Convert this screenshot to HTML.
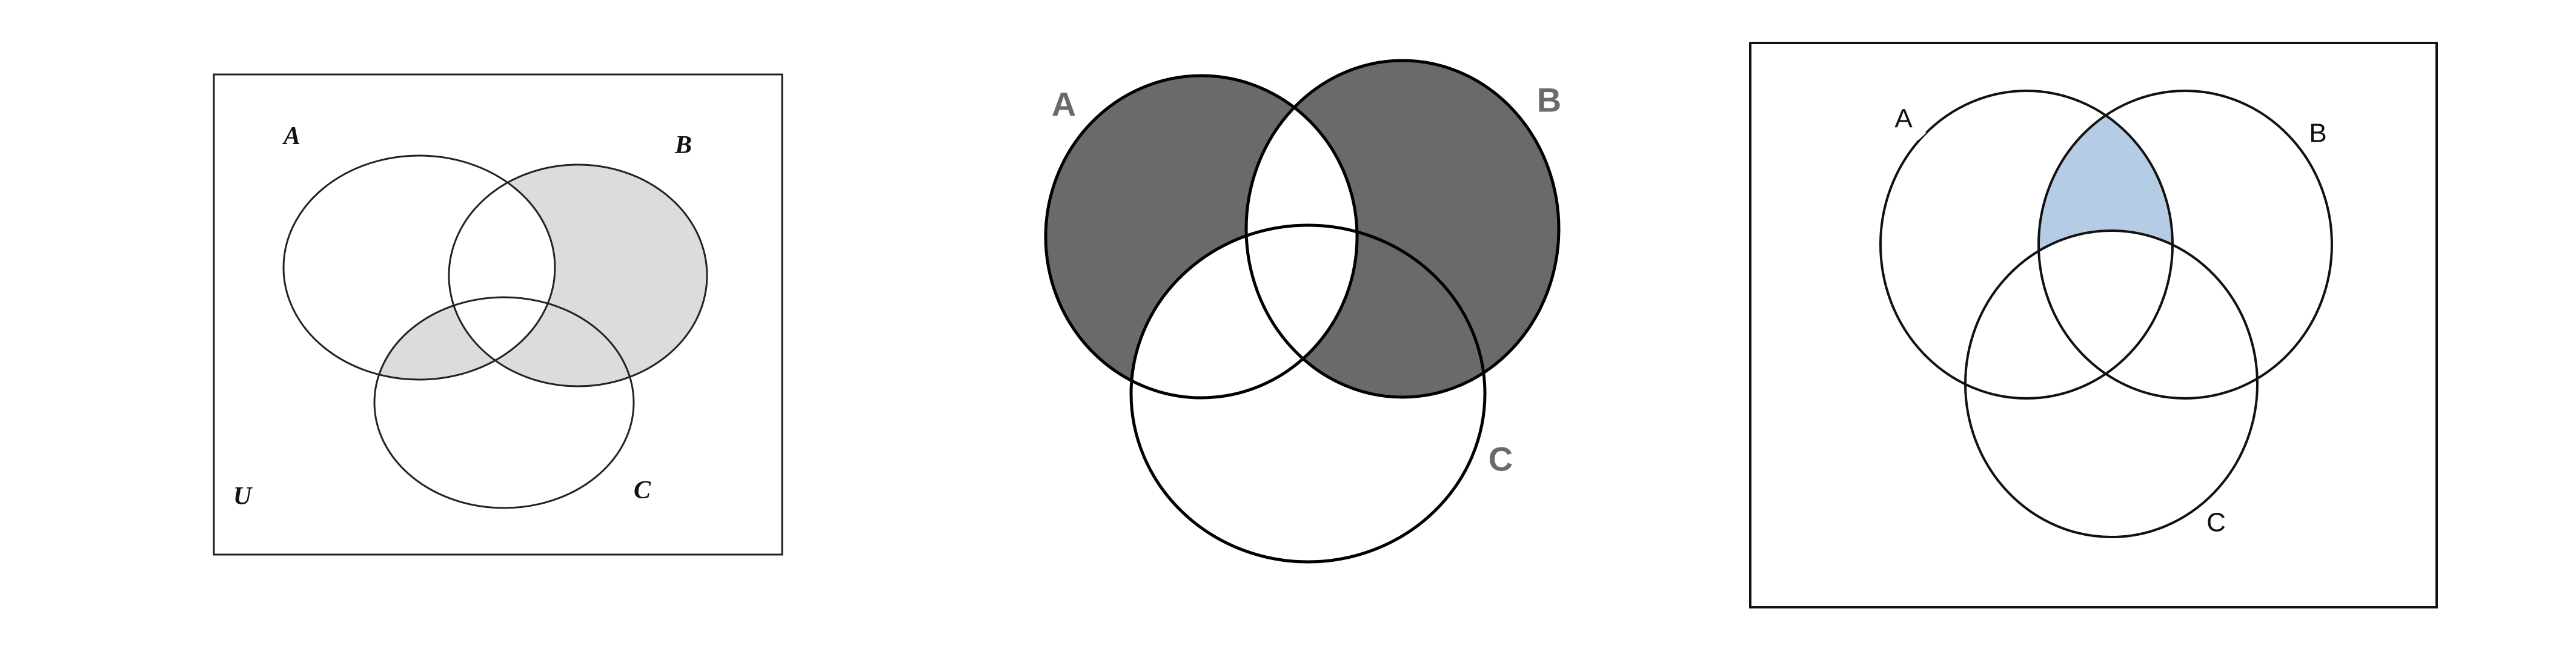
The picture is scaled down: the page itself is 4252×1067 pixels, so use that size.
<!DOCTYPE html>
<html><head><meta charset="utf-8"><style>
html,body{margin:0;padding:0;background:#fff;}
svg{display:block;}
</style></head><body>
<svg id="chart" width="4252" height="1067" viewBox="0 0 4252 1067" xmlns="http://www.w3.org/2000/svg">
<defs>
<mask id="p1mA"><rect width="4252" height="1067" fill="#fff"/><ellipse cx="692" cy="442" rx="224" ry="185" fill="#000"/></mask>
<clipPath id="p1A"><ellipse cx="692" cy="442" rx="224" ry="185"/></clipPath>
<clipPath id="p1C"><ellipse cx="832" cy="665" rx="214" ry="174"/></clipPath>
<mask id="p1mB"><rect width="4252" height="1067" fill="#fff"/><ellipse cx="954" cy="455" rx="213" ry="183" fill="#000"/></mask>

<mask id="p2mA"><rect width="4252" height="1067" fill="#fff"/><ellipse cx="1983" cy="391" rx="257" ry="266" fill="#000"/></mask>
<mask id="p2mBC"><rect width="4252" height="1067" fill="#fff"/><ellipse cx="2315" cy="378" rx="258" ry="278" fill="#000"/><ellipse cx="2159" cy="650" rx="292" ry="278" fill="#000"/></mask>

<clipPath id="p3A"><ellipse cx="3345" cy="404" rx="241" ry="254"/></clipPath>
<mask id="p3mC"><rect width="4252" height="1067" fill="#fff"/><ellipse cx="3485" cy="634" rx="241" ry="253" fill="#000"/></mask>
</defs>

<!-- Panel 1 -->
<g>
<rect x="353" y="123" width="938" height="793" fill="none" stroke="#222" stroke-width="3"/>
<g mask="url(#p1mA)"><ellipse cx="954" cy="455" rx="213" ry="183" fill="#dcdcdc"/></g>
<g clip-path="url(#p1A)"><g clip-path="url(#p1C)"><ellipse cx="832" cy="665" rx="214" ry="174" fill="#dcdcdc" mask="url(#p1mB)"/></g></g>
<ellipse cx="692" cy="442" rx="224" ry="185" fill="none" stroke="#222" stroke-width="3"/>
<ellipse cx="954" cy="455" rx="213" ry="183" fill="none" stroke="#222" stroke-width="3"/>
<ellipse cx="832" cy="665" rx="214" ry="174" fill="none" stroke="#222" stroke-width="3"/>
<g font-family="Liberation Serif, serif" font-style="italic" font-weight="bold" font-size="42" fill="#111" text-anchor="middle" dominant-baseline="central">
<text x="482" y="225">A</text>
<text x="1128" y="240">B</text>
<text x="1060" y="810">C</text>
<text x="400" y="820">U</text>
</g>
</g>

<!-- Panel 2 -->
<g>
<ellipse cx="2315" cy="378" rx="258" ry="278" fill="#6a6a6a" mask="url(#p2mA)"/>
<ellipse cx="1983" cy="391" rx="257" ry="266" fill="#6a6a6a" mask="url(#p2mBC)"/>
<ellipse cx="1983" cy="391" rx="257" ry="266" fill="none" stroke="#000" stroke-width="5"/>
<ellipse cx="2315" cy="378" rx="258" ry="278" fill="none" stroke="#000" stroke-width="5"/>
<ellipse cx="2159" cy="650" rx="292" ry="278" fill="none" stroke="#000" stroke-width="5"/>
<g font-family="Liberation Sans, sans-serif" font-weight="bold" font-size="56" fill="#6a6a6a" text-anchor="middle" dominant-baseline="central">
<text x="1756" y="172">A</text>
<text x="2557" y="165">B</text>
<text x="2477" y="758">C</text>
</g>
</g>

<!-- Panel 3 -->
<g>
<rect x="2889" y="71" width="1133" height="932" fill="none" stroke="#111" stroke-width="4"/>
<g clip-path="url(#p3A)"><ellipse cx="3607" cy="404" rx="242" ry="254" fill="#b4cce4" mask="url(#p3mC)"/></g>
<ellipse cx="3345" cy="404" rx="241" ry="254" fill="none" stroke="#111" stroke-width="4"/>
<ellipse cx="3607" cy="404" rx="242" ry="254" fill="none" stroke="#111" stroke-width="4"/>
<ellipse cx="3485" cy="634" rx="241" ry="253" fill="none" stroke="#111" stroke-width="4"/>
<line x1="3165" y1="230" x2="3178" y2="218" stroke="#fff" stroke-width="4"/>
<g font-family="Liberation Sans, sans-serif" font-size="44" fill="#111" text-anchor="middle" dominant-baseline="central">
<text x="3142" y="196">A</text>
<text x="3826" y="220">B</text>
<text x="3658" y="863">C</text>
</g>
</g>
</svg>
</body></html>
